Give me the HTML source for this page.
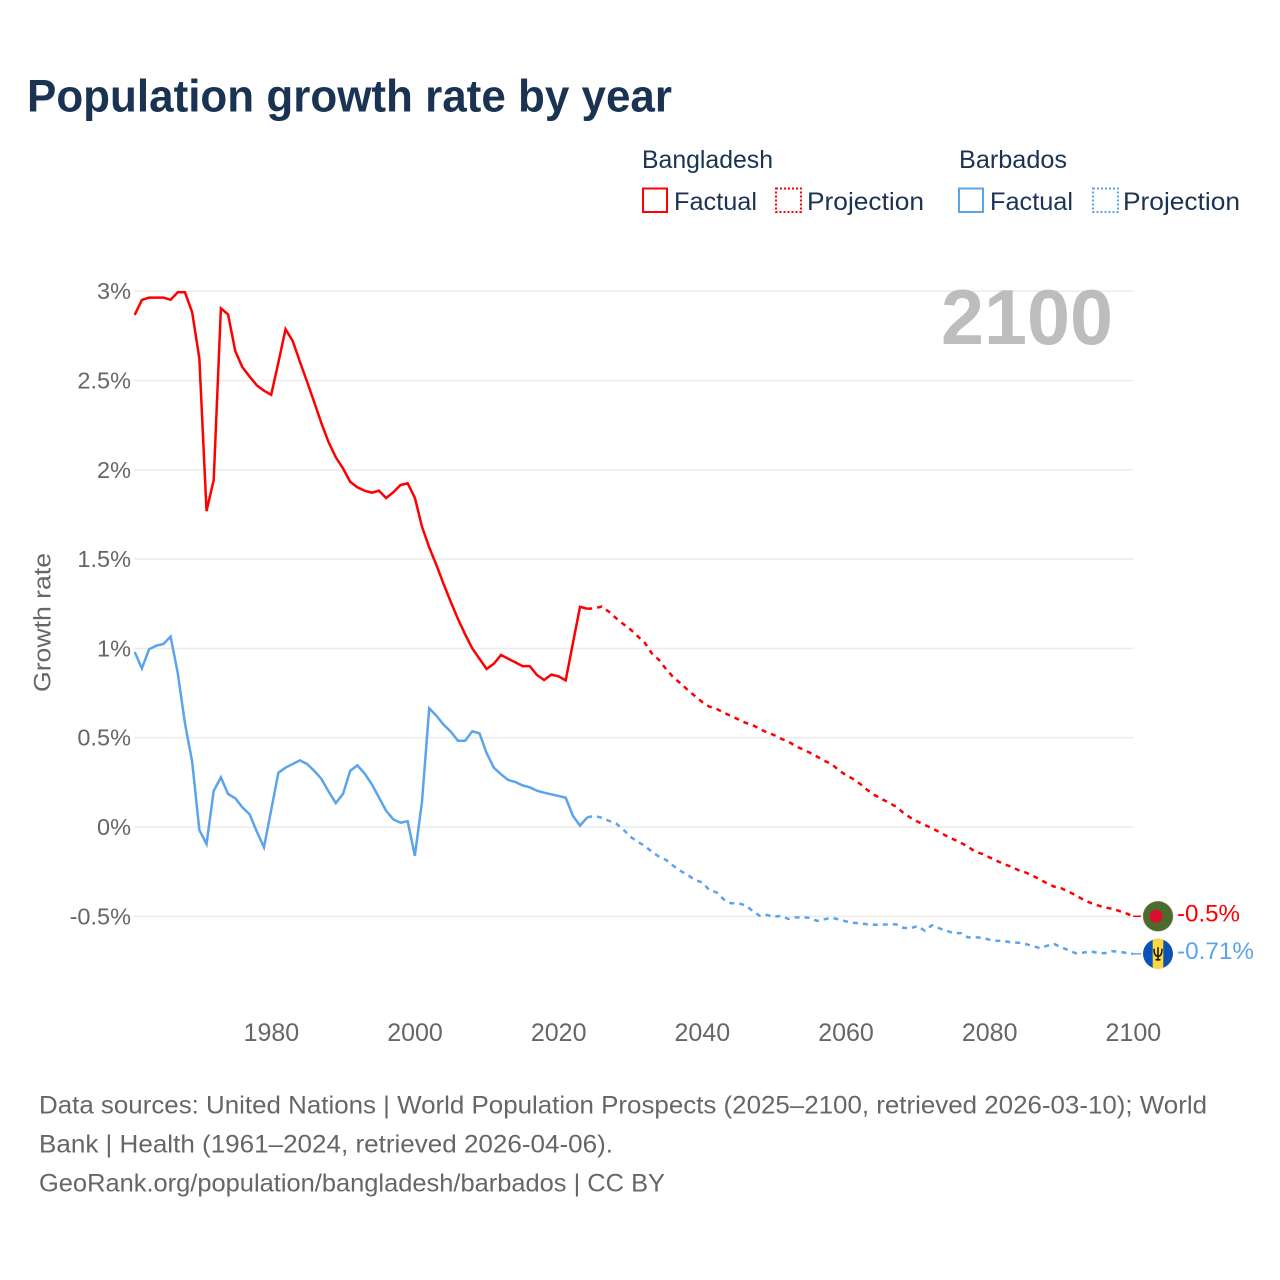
<!DOCTYPE html>
<html lang="en">
<head>
<meta charset="utf-8">
<title>Population growth rate by year</title>
<style>
  html, body { margin: 0; padding: 0; background: #fff; }
  svg { display: block; font-family: "Liberation Sans", "DejaVu Sans", sans-serif; }
  .tick { font-size: 23.5px; fill: #666; }
  .legend { font-size: 25px; fill: #1a3353; }
  .foot { font-size: 25px; fill: #666; }
</style>
</head>
<body>
<svg id="chart" xmlns="http://www.w3.org/2000/svg" width="1280" height="1280" viewBox="0 0 1280 1280">
  <rect x="0" y="0" width="1280" height="1280" fill="#fff"/>
  <text x="27" y="111.5" font-size="45" font-weight="700" fill="#1a3353" textLength="645" lengthAdjust="spacingAndGlyphs">Population growth rate by year</text>

  <g>
    <text class="legend" x="642" y="168" textLength="131" lengthAdjust="spacingAndGlyphs">Bangladesh</text>
    <text class="legend" x="959" y="168" textLength="108" lengthAdjust="spacingAndGlyphs">Barbados</text>
    <g>
      <rect x="643" y="188.5" width="24" height="23.5" fill="none" stroke="#ff0000" stroke-width="2"/>
      <text class="legend" x="674" y="210" textLength="83" lengthAdjust="spacingAndGlyphs">Factual</text>
    </g>
    <g>
      <rect x="776" y="188.5" width="25" height="23.5" fill="none" stroke="#ff0000" stroke-width="2" stroke-dasharray="2 2"/>
      <text class="legend" x="807" y="210" textLength="117" lengthAdjust="spacingAndGlyphs">Projection</text>
    </g>
    <g>
      <rect x="959" y="188.5" width="24" height="23.5" fill="none" stroke="#5ba4ec" stroke-width="2"/>
      <text class="legend" x="990" y="210" textLength="83" lengthAdjust="spacingAndGlyphs">Factual</text>
    </g>
    <g>
      <rect x="1093" y="188.5" width="25" height="23.5" fill="none" stroke="#5ba4ec" stroke-width="2" stroke-dasharray="2 2"/>
      <text class="legend" x="1123" y="210" textLength="117" lengthAdjust="spacingAndGlyphs">Projection</text>
    </g>
  </g>

  <g id="grid"></g>
  <text x="1113" y="344" text-anchor="end" font-size="78" font-weight="700" fill="#bdbdbd" textLength="172" lengthAdjust="spacingAndGlyphs">2100</text>
  <g id="yticks"></g>
  <g id="xticks"></g>
  <text transform="translate(50.5 692) rotate(-90)" font-size="24.5" fill="#666" textLength="139" lengthAdjust="spacingAndGlyphs">Growth rate</text>
  <g id="series"></g>

  <defs>
    <clipPath id="flag-clip"><circle cx="0" cy="0" r="15"/></clipPath>
  </defs>
  <g id="flag-bd">
    <g clip-path="url(#flag-clip)">
      <rect x="-16" y="-16" width="32" height="32" fill="#4e6b2e"/>
      <circle cx="-2" cy="0" r="6.5" fill="#dc0f2f"/>
    </g>
    <circle r="15" fill="none" stroke="#8a8a8a" stroke-opacity="0.5" stroke-width="0.6"/>
  </g>
  <g id="flag-bb">
    <g clip-path="url(#flag-clip)">
      <rect x="-16" y="-16" width="32" height="32" fill="#0a52b5"/>
      <rect x="-5.3" y="-16" width="10.6" height="32" fill="#ffd83d"/>
      <path d="M-4 -5 C-4 1 -2 2.5 0 2.5 C2 2.5 4 1 4 -5 M0 -6.5 V7 M-2.5 6 H2.5" fill="none" stroke="#111" stroke-width="1.5"/>
    </g>
  </g>
  <text id="label-bd" x="1177" font-size="24" fill="#ff0000" textLength="63" lengthAdjust="spacingAndGlyphs">-0.5%</text>
  <text id="label-bb" x="1177" font-size="24" fill="#5ba4ec" textLength="77" lengthAdjust="spacingAndGlyphs">-0.71%</text>

  <g>
    <text class="foot" x="39" y="1113.5" textLength="1168" lengthAdjust="spacingAndGlyphs">Data sources: United Nations | World Population Prospects (2025–2100, retrieved 2026-03-10); World</text>
    <text class="foot" x="39" y="1152.5" textLength="574" lengthAdjust="spacingAndGlyphs">Bank | Health (1961–2024, retrieved 2026-04-06).</text>
    <text class="foot" x="39" y="1191.5" textLength="626" lengthAdjust="spacingAndGlyphs">GeoRank.org/population/bangladesh/barbados | CC BY</text>
  </g>
</svg>
<script>
const factualYears = [1961,1962,1963,1964,1965,1966,1967,1968,1969,1970,1971,1972,1973,1974,1975,1976,1977,1978,1979,1980,1981,1982,1983,1984,1985,1986,1987,1988,1989,1990,1991,1992,1993,1994,1995,1996,1997,1998,1999,2000,2001,2002,2003,2004,2005,2006,2007,2008,2009,2010,2011,2012,2013,2014,2015,2016,2017,2018,2019,2020,2021,2022,2023,2024];
const projectionYears = [2024,2025,2026,2027,2028,2029,2030,2031,2032,2033,2034,2035,2036,2037,2038,2039,2040,2041,2042,2043,2044,2045,2046,2047,2048,2049,2050,2051,2052,2053,2054,2055,2056,2057,2058,2059,2060,2061,2062,2063,2064,2065,2066,2067,2068,2069,2070,2071,2072,2073,2074,2075,2076,2077,2078,2079,2080,2081,2082,2083,2084,2085,2086,2087,2088,2089,2090,2091,2092,2093,2094,2095,2096,2097,2098,2099,2100];

const bangladeshFactual = [2.867,2.951,2.964,2.964,2.964,2.952,2.994,2.994,2.882,2.624,1.769,1.943,2.904,2.87,2.665,2.574,2.522,2.473,2.443,2.42,2.6,2.787,2.721,2.605,2.493,2.378,2.26,2.154,2.07,2.008,1.933,1.902,1.883,1.872,1.883,1.842,1.874,1.915,1.924,1.844,1.681,1.566,1.467,1.361,1.261,1.165,1.079,1.0,0.942,0.885,0.914,0.963,0.942,0.922,0.901,0.901,0.851,0.823,0.853,0.844,0.821,1.028,1.233,1.222];
const bangladeshProjection = [1.222,1.224,1.234,1.206,1.17,1.137,1.107,1.069,1.032,0.972,0.935,0.883,0.838,0.804,0.767,0.733,0.70,0.674,0.662,0.64,0.622,0.603,0.584,0.571,0.55,0.53,0.515,0.494,0.478,0.453,0.435,0.416,0.394,0.371,0.353,0.319,0.291,0.269,0.241,0.207,0.179,0.157,0.136,0.114,0.08,0.052,0.03,0.011,-0.007,-0.028,-0.05,-0.069,-0.088,-0.11,-0.138,-0.151,-0.17,-0.189,-0.207,-0.222,-0.241,-0.254,-0.273,-0.293,-0.315,-0.334,-0.343,-0.362,-0.382,-0.405,-0.424,-0.438,-0.45,-0.457,-0.469,-0.483,-0.5];
const barbadosFactual = [0.98,0.888,0.995,1.015,1.025,1.066,0.86,0.58,0.366,-0.017,-0.095,0.203,0.278,0.185,0.161,0.11,0.071,-0.026,-0.114,0.095,0.304,0.332,0.353,0.373,0.353,0.314,0.269,0.198,0.134,0.185,0.314,0.345,0.30,0.24,0.166,0.091,0.043,0.024,0.032,-0.161,0.142,0.665,0.623,0.573,0.534,0.483,0.483,0.536,0.525,0.413,0.332,0.295,0.263,0.252,0.233,0.222,0.203,0.192,0.183,0.174,0.164,0.063,0.007,0.054];
const barbadosProjection = [0.054,0.062,0.052,0.035,0.02,-0.013,-0.054,-0.082,-0.106,-0.138,-0.166,-0.185,-0.218,-0.246,-0.269,-0.297,-0.31,-0.353,-0.366,-0.405,-0.427,-0.427,-0.438,-0.469,-0.497,-0.493,-0.502,-0.498,-0.515,-0.506,-0.506,-0.508,-0.526,-0.517,-0.508,-0.517,-0.528,-0.536,-0.539,-0.545,-0.547,-0.547,-0.545,-0.545,-0.564,-0.567,-0.554,-0.581,-0.55,-0.567,-0.581,-0.594,-0.594,-0.618,-0.618,-0.62,-0.631,-0.637,-0.638,-0.646,-0.648,-0.655,-0.666,-0.678,-0.665,-0.655,-0.674,-0.689,-0.707,-0.704,-0.696,-0.704,-0.707,-0.696,-0.698,-0.705,-0.71];

const yTickValues = [3, 2.5, 2, 1.5, 1, 0.5, 0, -0.5];
const yTickLabels = ["3%", "2.5%", "2%", "1.5%", "1%", "0.5%", "0%", "-0.5%"];
const xTickYears = [1980, 2000, 2020, 2040, 2060, 2080, 2100];
const xTickLabels = ["1980", "2000", "2020", "2040", "2060", "2080", "2100"];

const NS = "http://www.w3.org/2000/svg";
function xScale(year) { return 134.7 + (year - 1961) * 7.183; }
function yScale(value) { return 827 - value * 178.6; }
function pathFrom(years, values) {
  return values.map(function (v, i) {
    return (i ? "L" : "M") + xScale(years[i]).toFixed(2) + " " + yScale(v).toFixed(2);
  }).join(" ");
}

const grid = document.getElementById("grid");
const yticks = document.getElementById("yticks");
yTickValues.forEach(function (v, i) {
  const line = document.createElementNS(NS, "line");
  
  
  line.setAttribute("x1", 134);
  line.setAttribute("x2", 1133);
  line.setAttribute("y1", yScale(v));
  line.setAttribute("y2", yScale(v));
  line.setAttribute("stroke", "#ececec");
  line.setAttribute("stroke-width", "1.6");
  grid.appendChild(line);
  const t = document.createElementNS(NS, "text");
  
  
  t.setAttribute("class", "tick");
  t.setAttribute("x", 131);
  t.setAttribute("y", yScale(v) + 8);
  t.setAttribute("text-anchor", "end");
  t.textContent = yTickLabels[i];
  yticks.appendChild(t);
});

const xticks = document.getElementById("xticks");
xTickYears.forEach(function (yr, i) {
  const t = document.createElementNS(NS, "text");
  
  
  t.setAttribute("class", "tick");
  t.setAttribute("x", xScale(yr) + 0.2);
  t.setAttribute("y", 1041);
  t.setAttribute("text-anchor", "middle");
  t.style.fontSize = "25px";
  t.textContent = xTickLabels[i];
  xticks.appendChild(t);
});

const seriesGroup = document.getElementById("series");
function addLine(name, years, values, color, dashed) {
  const p = document.createElementNS(NS, "path");
  
  
  p.setAttribute("d", pathFrom(years, values));
  p.setAttribute("fill", "none");
  p.setAttribute("stroke", color);
  p.setAttribute("stroke-width", "2.5");
  p.setAttribute("stroke-linejoin", "miter");
  if (dashed) p.setAttribute("stroke-dasharray", "5 5");
  seriesGroup.appendChild(p);
}
function addLeader(name, value, color) {
  const l = document.createElementNS(NS, "line");
  
  
  l.setAttribute("x1", xScale(2100));
  l.setAttribute("x2", xScale(2100) + 8);
  l.setAttribute("y1", yScale(value));
  l.setAttribute("y2", yScale(value));
  l.setAttribute("stroke", color);
  l.setAttribute("stroke-width", "1.5");
  seriesGroup.appendChild(l);
}
addLine("bangladesh-factual-line", factualYears, bangladeshFactual, "#ff0000", false);
addLine("bangladesh-projection-line", projectionYears, bangladeshProjection, "#ff0000", true);
addLine("barbados-factual-line", factualYears, barbadosFactual, "#5ba4ec", false);
addLine("barbados-projection-line", projectionYears, barbadosProjection, "#5ba4ec", true);

const lastBd = bangladeshProjection[bangladeshProjection.length - 1];
const lastBb = barbadosProjection[barbadosProjection.length - 1];
addLeader("bangladesh-leader-line", lastBd, "#ff0000");
addLeader("barbados-leader-line", lastBb, "#5ba4ec");
document.getElementById("flag-bd").setAttribute("transform", "translate(1158 " + yScale(lastBd) + ")");
document.getElementById("flag-bb").setAttribute("transform", "translate(1158 " + yScale(lastBb) + ")");
document.getElementById("label-bd").setAttribute("y", yScale(lastBd) + 5);
document.getElementById("label-bb").setAttribute("y", yScale(lastBb) + 5);
</script>
</body>
</html>
